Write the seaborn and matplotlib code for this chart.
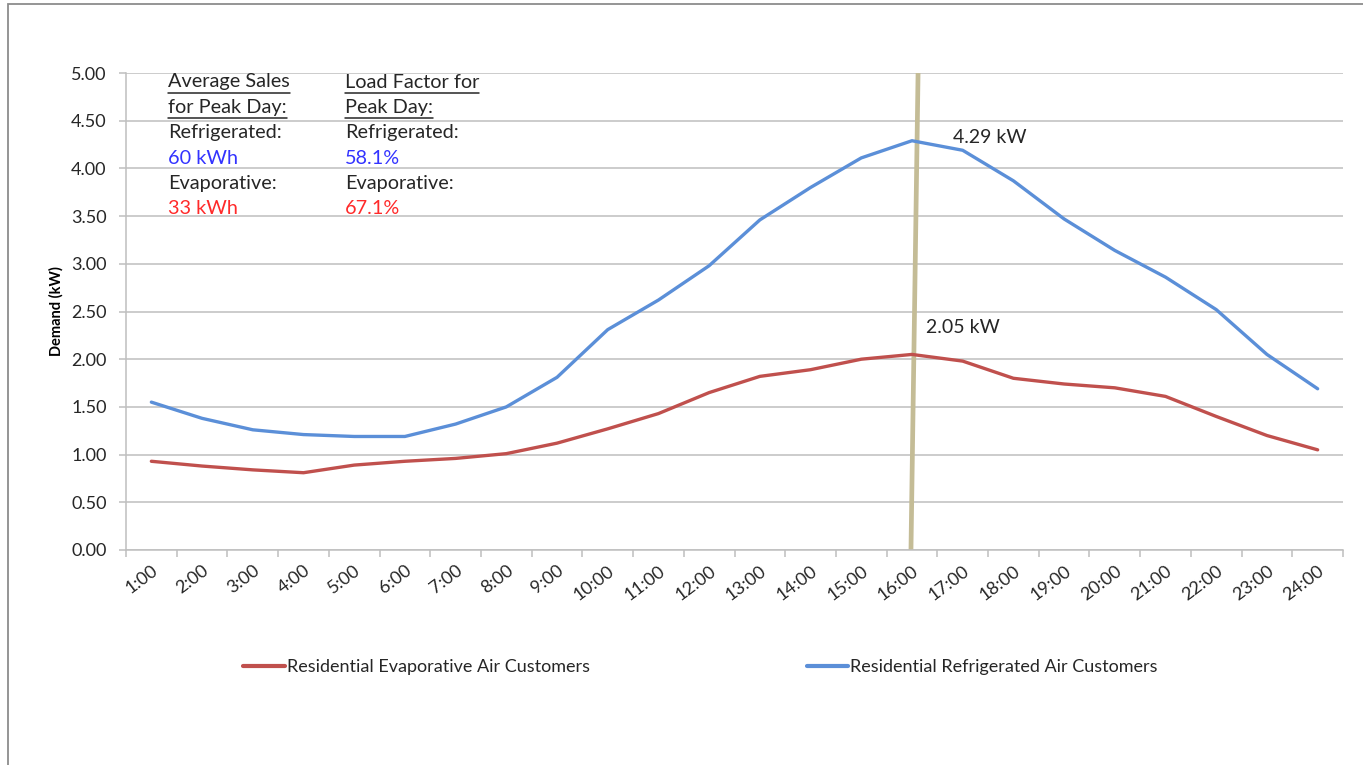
import matplotlib
matplotlib.use("Agg")
import matplotlib.pyplot as plt
from matplotlib.lines import Line2D
from matplotlib.patches import Rectangle
import numpy as np
import pandas as pd
import seaborn as sns

# Hourly demand on the peak day (kW)
hours = [f"{h}:00" for h in range(1, 25)]
refrigerated_kw = [1.55, 1.38, 1.26, 1.21, 1.19, 1.19, 1.32, 1.50,
                   1.81, 2.31, 2.62, 2.98, 3.46, 3.80, 4.11, 4.29,
                   4.19, 3.87, 3.47, 3.14, 2.86, 2.52, 2.05, 1.69]
evaporative_kw = [0.93, 0.88, 0.84, 0.81, 0.89, 0.93, 0.96, 1.01,
                  1.12, 1.27, 1.43, 1.65, 1.82, 1.89, 2.00, 2.05,
                  1.98, 1.80, 1.74, 1.70, 1.61, 1.40, 1.20, 1.05]
series_names = ["Residential Evaporative Air Customers",
                "Residential Refrigerated Air Customers"]
peak_hour = "16:00"
yticks = [0.0, 0.5, 1.0, 1.5, 2.0, 2.5, 3.0, 3.5, 4.0, 4.5, 5.0]

sns.set_theme(style="white")
plt.rcParams["font.family"] = ["Lato", "DejaVu Sans"]

RED = "#C0504D"
BLUE = "#5B8FD8"
GRID = "#BFBFBF"
TEXT = "#262626"

pos = np.arange(len(hours)) + 0.5
df = pd.DataFrame({
    "pos": np.concatenate([pos, pos]),
    "kw": evaporative_kw + refrigerated_kw,
    "series": [series_names[0]] * len(hours) + [series_names[1]] * len(hours),
})

W, H = 1363, 765
fig = plt.figure(figsize=(W / 100, H / 100), dpi=100)
ax = fig.add_axes([126 / W, 1 - 550 / H, (1343 - 126) / W, (550 - 73) / H])

sns.lineplot(data=df, x="pos", y="kw", hue="series", hue_order=series_names,
             palette=[RED, BLUE], linewidth=2.4, ax=ax, legend=False,
             sort=False)

ax.set_xlim(0, len(hours))
ax.set_ylim(0, 5)
ax.set_yticks(yticks)
ax.set_yticklabels([f"{v:.2f}" for v in yticks], fontsize=13, color=TEXT)
ax.yaxis.grid(True, color=GRID, linewidth=1.1)
ax.set_axisbelow(True)

# tick marks at hour boundaries, labels at hour centres
ax.set_xticks(np.arange(0, len(hours) + 1))
ax.set_xticklabels([])
ax.set_xticks(pos, minor=True)
ax.set_xticklabels(hours, minor=True, rotation=37, ha="right",
                   rotation_mode="anchor", fontsize=13, color=TEXT)
ax.tick_params(axis="x", which="major", direction="out", length=5,
               color=GRID, width=1.1, bottom=True)
ax.tick_params(axis="x", which="minor", length=0, pad=9)
ax.tick_params(axis="y", direction="out", length=5, color=GRID, width=1.1,
               left=True, pad=9)

for side in ["top", "right"]:
    ax.spines[side].set_visible(False)
for side in ["left", "bottom"]:
    ax.spines[side].set_color(GRID)
    ax.spines[side].set_linewidth(1.1)

ax.set_xlabel("")
ax.set_ylabel("Demand (kW)", fontsize=10.5, fontweight="bold", color="black")
ax.yaxis.set_label_coords((64 - 126) / (1343 - 126), 0.5)

# peak-hour marker
pk = hours.index(peak_hour) + 0.5
ax.plot([pk - 0.02, pk + 0.12], [0, 5], color="#C4BC96", linewidth=3.4,
        solid_capstyle="butt", zorder=1)

ref_peak = refrigerated_kw[hours.index(peak_hour)]
evap_peak = evaporative_kw[hours.index(peak_hour)]
ax.text(pk + 0.81, ref_peak + 0.03, f"{ref_peak:.2f} kW",
        fontsize=14, color=TEXT, va="center")
ax.text(pk + 0.27, evap_peak + 0.28, f"{evap_peak:.2f} kW",
        fontsize=14, color=TEXT, va="center")

# summary text block
col1 = [("Average Sales", TEXT, True), ("for Peak Day:", TEXT, True),
        ("Refrigerated:", TEXT, False), ("60 kWh", "#3333FF", False),
        ("Evaporative:", TEXT, False), ("33 kWh", "#FF2A2A", False)]
col2 = [("Load Factor for", TEXT, True), ("Peak Day:", TEXT, True),
        ("Refrigerated:", TEXT, False), ("58.1%", "#3333FF", False),
        ("Evaporative:", TEXT, False), ("67.1%", "#FF2A2A", False)]
under = []
for x0, col in [(168, col1), (345, col2)]:
    for i, (s, c, u) in enumerate(col):
        yc = 82 + i * 25.4
        t = fig.text(x0 / W, 1 - yc / H, s, fontsize=14.3, color=c,
                     va="center", ha="left")
        if u:
            under.append((t, yc))

fig.canvas.draw()
r = fig.canvas.get_renderer()
for t, yc in under:
    bb = t.get_window_extent(r)
    yl = 1 - (yc + 10.5) / H
    fig.add_artist(Line2D([bb.x0 / W, bb.x1 / W], [yl, yl], color=TEXT,
                          linewidth=1.1))

# legend
handles = [Line2D([0], [0], color=RED, linewidth=3),
           Line2D([0], [0], color=BLUE, linewidth=3)]
fig.legend(handles, series_names, loc="center", ncol=2,
           bbox_to_anchor=(0.514, 1 - 667 / H), frameon=False,
           fontsize=13, handlelength=2.3, handletextpad=0.12,
           columnspacing=12.0, labelcolor=TEXT)

# outer chart border
fig.add_artist(Rectangle((8 / W, -0.1), 1.2, 1 - 4 / H + 0.1,
                         transform=fig.transFigure, fill=False,
                         edgecolor="#8C8C8C", linewidth=1.3))

fig.savefig("out.png", dpi=100, facecolor="white")
